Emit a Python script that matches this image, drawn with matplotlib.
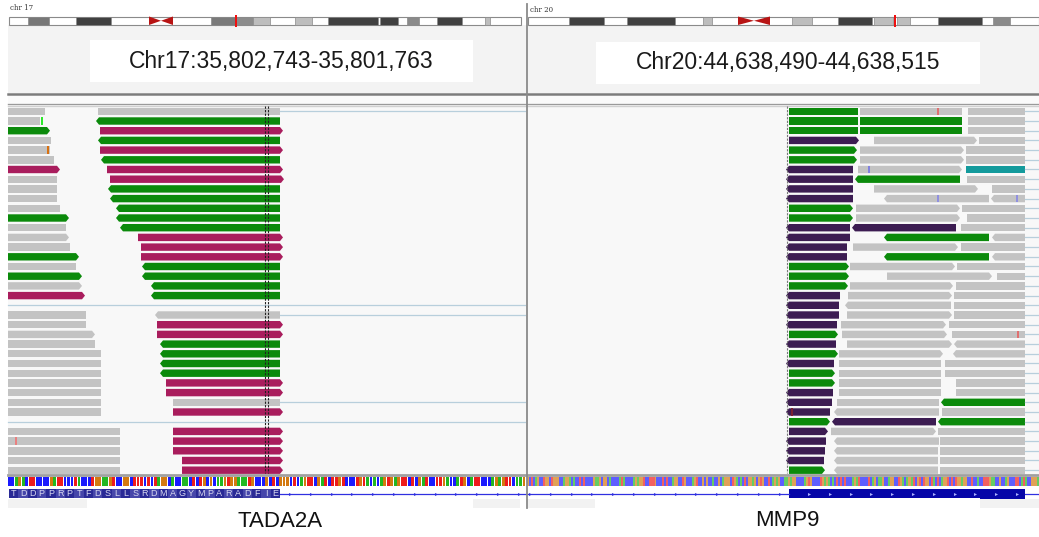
import numpy as np
import matplotlib
matplotlib.use("Agg")
import matplotlib.pyplot as plt
from matplotlib.patches import Polygon, Rectangle

plt.rcParams['font.family'] = ['Liberation Sans', 'DejaVu Sans']

# ---- data --------------------------------------------------------------
loci = ["Chr17:35,802,743-35,801,763", "Chr20:44,638,490-44,638,515"]
genes = ["TADA2A", "MMP9"]
chroms = ["chr 17", "chr 20"]

# ideogram bands: (start, end, shade)
left_bands = [(28, 49, '#777777'), (76, 111, '#404040'), (211, 236, '#7a7a7a'),
              (236, 253, '#8c8c8c'), (253, 270, '#bdbdbd'), (295, 312, '#bdbdbd'),
              (328, 378, '#404040'), (380, 398, '#404040'), (407, 419, '#8a8a8a'),
              (437, 462, '#404040'), (485, 490, '#bdbdbd')]
right_bands = [(569, 604, '#404040'), (627, 675, '#404040'), (703, 712, '#bdbdbd'),
               (792, 812, '#bdbdbd'), (838, 872, '#404040'), (874, 893, '#bdbdbd'),
               (897, 910, '#bdbdbd'), (938, 982, '#404040'), (993, 1010, '#8a8a8a')]
centromeres = [(149, 173), (738, 770)]
cytoband_marks = [236, 895]

# reads: (row, start, end, colour, strand)
left_reads = [
    (0, 8, 45, 'gray', '.'), (0, 98, 280, 'gray', '.'),
    (1, 8, 40, 'gray', '.'), (1, 96, 280, 'green', '-'),
    (2, 8, 50, 'green', '+'), (2, 100, 283, 'magenta', '+'),
    (3, 8, 51, 'gray', '.'), (3, 98, 280, 'green', '-'),
    (4, 8, 50, 'gray', '.'), (4, 100, 283, 'magenta', '+'),
    (5, 8, 54, 'gray', '.'), (5, 101, 280, 'green', '-'),
    (6, 8, 60, 'magenta', '+'), (6, 107, 283, 'magenta', '+'),
    (7, 8, 57, 'gray', '.'), (7, 110, 284, 'magenta', '+'),
    (8, 8, 57, 'gray', '.'), (8, 108, 280, 'green', '-'),
    (9, 8, 57, 'gray', '.'), (9, 110, 280, 'green', '-'),
    (10, 8, 60, 'gray', '.'), (10, 116, 280, 'green', '-'),
    (11, 8, 69, 'green', '+'), (11, 116, 280, 'green', '-'),
    (12, 8, 66, 'gray', '.'), (12, 120, 280, 'green', '-'),
    (13, 8, 69, 'gray', '+'), (13, 138, 283, 'magenta', '+'),
    (14, 8, 70, 'gray', '.'), (14, 141, 283, 'magenta', '+'),
    (15, 8, 79, 'green', '+'), (15, 141, 283, 'magenta', '+'),
    (16, 8, 76, 'gray', '.'), (16, 142, 280, 'green', '-'),
    (17, 8, 82, 'green', '+'), (17, 142, 280, 'green', '-'),
    (18, 8, 82, 'gray', '+'), (18, 151, 280, 'green', '-'),
    (19, 8, 85, 'magenta', '+'), (19, 151, 280, 'green', '-'),
    (21, 8, 86, 'gray', '.'), (21, 155, 280, 'gray', '-'),
    (22, 8, 86, 'gray', '.'), (22, 157, 283, 'magenta', '+'),
    (23, 8, 95, 'gray', '+'), (23, 157, 283, 'magenta', '+'),
    (24, 8, 95, 'gray', '.'), (24, 160, 280, 'green', '-'),
    (25, 8, 101, 'gray', '.'), (25, 160, 280, 'green', '-'),
    (26, 8, 101, 'gray', '.'), (26, 160, 280, 'green', '-'),
    (27, 8, 101, 'gray', '.'), (27, 160, 280, 'green', '-'),
    (28, 8, 101, 'gray', '.'), (28, 166, 283, 'magenta', '+'),
    (29, 8, 101, 'gray', '.'), (29, 166, 283, 'magenta', '+'),
    (30, 8, 101, 'gray', '.'), (30, 173, 280, 'gray', '.'),
    (31, 8, 101, 'gray', '.'), (31, 173, 283, 'magenta', '+'),
    (33, 8, 120, 'gray', '.'), (33, 173, 283, 'magenta', '+'),
    (34, 8, 120, 'gray', '.'), (34, 173, 283, 'magenta', '+'),
    (35, 8, 120, 'gray', '.'), (35, 173, 283, 'magenta', '+'),
    (36, 8, 120, 'gray', '.'), (36, 182, 283, 'magenta', '+'),
    (37, 8, 120, 'gray', '.'), (37, 182, 283, 'magenta', '+'),
]

right_reads = [
    (0, 789, 858, 'green', '.'), (0, 860, 962, 'gray', '.'), (0, 968, 1025, 'gray', '.'),
    (1, 789, 858, 'green', '.'), (1, 860, 962, 'green', '.'), (1, 968, 1025, 'gray', '.'),
    (2, 789, 858, 'green', '.'), (2, 860, 962, 'green', '.'), (2, 968, 1025, 'gray', '.'),
    (3, 789, 859, 'purple', '+'), (3, 874, 977, 'gray', '+'), (3, 979, 1025, 'gray', '.'),
    (4, 789, 857, 'green', '+'), (4, 860, 964, 'gray', '+'), (4, 966, 1025, 'gray', '.'),
    (5, 789, 857, 'green', '+'), (5, 860, 964, 'gray', '+'), (5, 966, 1025, 'gray', '.'),
    (6, 786, 853, 'purple', '-'), (6, 858, 962, 'gray', '+'), (6, 966, 1025, 'teal', '.'),
    (7, 786, 853, 'purple', '-'), (7, 855, 960, 'green', '-'), (7, 967, 1025, 'gray', '.'),
    (8, 786, 853, 'purple', '-'), (8, 874, 978, 'gray', '+'), (8, 992, 1025, 'gray', '.'),
    (9, 786, 853, 'purple', '-'), (9, 884, 989, 'gray', '-'), (9, 991, 1025, 'gray', '-'),
    (10, 789, 853, 'green', '+'), (10, 856, 960, 'gray', '+'), (10, 962, 1025, 'gray', '.'),
    (11, 789, 853, 'green', '+'), (11, 856, 960, 'gray', '+'), (11, 967, 1025, 'gray', '.'),
    (12, 786, 850, 'purple', '-'), (12, 852, 956, 'purple', '-'), (12, 961, 1025, 'gray', '.'),
    (13, 786, 850, 'purple', '-'), (13, 884, 989, 'green', '-'), (13, 992, 1025, 'gray', '-'),
    (14, 786, 847, 'purple', '-'), (14, 853, 958, 'gray', '+'), (14, 961, 1025, 'gray', '.'),
    (15, 786, 847, 'purple', '-'), (15, 884, 989, 'green', '-'), (15, 992, 1025, 'gray', '-'),
    (16, 789, 849, 'green', '+'), (16, 850, 955, 'gray', '+'), (16, 957, 1025, 'gray', '.'),
    (17, 789, 849, 'green', '+'), (17, 887, 992, 'gray', '+'), (17, 997, 1025, 'gray', '.'),
    (18, 789, 848, 'green', '+'), (18, 850, 953, 'gray', '+'), (18, 956, 1025, 'gray', '.'),
    (19, 786, 840, 'purple', '-'), (19, 848, 952, 'gray', '+'), (19, 954, 1025, 'gray', '.'),
    (20, 786, 839, 'purple', '-'), (20, 845, 951, 'gray', '-'), (20, 954, 1025, 'gray', '.'),
    (21, 786, 839, 'purple', '-'), (21, 847, 952, 'gray', '+'), (21, 954, 1025, 'gray', '.'),
    (22, 786, 837, 'purple', '-'), (22, 841, 946, 'gray', '+'), (22, 949, 1025, 'gray', '.'),
    (23, 789, 838, 'green', '+'), (23, 842, 947, 'gray', '+'), (23, 952, 1025, 'gray', '.'),
    (24, 786, 836, 'purple', '-'), (24, 847, 952, 'gray', '+'), (24, 954, 1025, 'gray', '-'),
    (25, 789, 838, 'green', '+'), (25, 839, 943, 'gray', '+'), (25, 953, 1025, 'gray', '-'),
    (26, 786, 834, 'purple', '-'), (26, 839, 941, 'gray', '.'), (26, 945, 1025, 'gray', '.'),
    (27, 789, 835, 'green', '+'), (27, 839, 941, 'gray', '.'), (27, 945, 1025, 'gray', '.'),
    (28, 789, 835, 'green', '+'), (28, 839, 941, 'gray', '.'), (28, 956, 1025, 'gray', '.'),
    (29, 786, 833, 'purple', '-'), (29, 839, 941, 'gray', '.'), (29, 956, 1025, 'gray', '.'),
    (30, 786, 832, 'purple', '-'), (30, 837, 939, 'gray', '.'), (30, 941, 1025, 'green', '-'),
    (31, 786, 830, 'purple', '-'), (31, 834, 939, 'gray', '-'), (31, 942, 1025, 'gray', '.'),
    (32, 789, 830, 'green', '+'), (32, 832, 936, 'purple', '-'), (32, 938, 1025, 'green', '-'),
    (33, 789, 828, 'purple', '+'), (33, 831, 936, 'gray', '+'), (33, 938, 1025, 'gray', '.'),
    (34, 786, 826, 'purple', '-'), (34, 834, 939, 'gray', '-'), (34, 940, 1025, 'gray', '.'),
    (35, 786, 825, 'purple', '-'), (35, 834, 938, 'gray', '-'), (35, 940, 1025, 'gray', '.'),
    (36, 786, 824, 'purple', '-'), (36, 834, 938, 'gray', '-'), (36, 940, 1025, 'gray', '.'),
    (37, 789, 825, 'green', '+'), (37, 834, 938, 'gray', '-'), (37, 940, 1025, 'gray', '.'),
]

# mismatched bases inside reads: (row, x, colour)
mismatches = [(1, 42, '#2ee82e'), (4, 48, '#d87010'), (34, 16, '#e88080'),
              (0, 938, '#e07070'), (6, 869, '#8080e0'), (9, 938, '#9090e0'),
              (9, 1017, '#9090e0'), (23, 1018, '#e07070'), (31, 792, '#7a2030')]

# split-read junction lines: (row, start, end)
junctions = [(0, 280, 525), (20, 8, 525), (21, 280, 525), (30, 280, 525), (32, 8, 525)]
junctions += [(r, 1025, 1039) for r in range(38)]

left_seq = ("CCAGACTTCCCCGATTCCCTACCCTGGAAGTCCGGCTTTCTCTAGGCACCAACTCTGCGCAAGTGGAAATG"
            "CCCGCTCGGGCTCAGTTCGATCTTGTCCCTGTACACAGTGAGTTCTCGATCCTTGACCATGCATTCCCAGAGTTCAAG")
right_seq = ("GCTCAGCCTGGCTGGGCCAGGACACCTCTCCCCGAAGCGGCACCCCATACCCCAGAGGTCCTTTGCCCTCTC"
             "CAGGCCTGCCCAGTCCGCGCCACCGCAGGGCTGACACTCGGAGCGTGCCTCAGAGCCAAGAGGCCCCAGTGC"
             "CCCTGAGACACTCTCTCCCAGATCCCCTCAGCAAGCCAGGCCTGACAGGATCGTCTGGCTACTCAGGTCTCT"
             "GGAGGCCTCCACCTTTGAACCGCCAGCCCTTCATACCGGGA")
aa_left = "TDDPPRPTFDSLLSRDMAGYMPARADFIE"

# ---- styling -----------------------------------------------------------
read_cols = {'gray': '#c3c3c3', 'green': '#0b8a0b', 'magenta': '#a91d5d',
             'purple': '#3c1c52', 'teal': '#139a9c'}
base_cols = {'A': '#22b822', 'C': '#1a1aff', 'G': '#d47a10', 'T': '#ee1c1c'}
row_top, row_step, row_h = 107.6, 9.7, 7.4

fig = plt.figure(figsize=(10.39, 5.37), dpi=100)
ax = fig.add_axes([0, 0, 1, 1])
ax.set_xlim(0, 1039)
ax.set_ylim(537, 0)
ax.axis('off')

panels = [(8, 526), (527, 1039)]

# header background and locus boxes
ax.add_patch(Rectangle((8, 25), 1031, 68, color='#f3f3f3', lw=0))
ax.add_patch(Rectangle((90, 40), 383, 42, color='white', lw=0))
ax.add_patch(Rectangle((596, 42), 384, 42, color='white', lw=0))
ax.text(281, 61.5, loci[0], ha='center', va='center', fontsize=16.5, color='#1a1a1a')
ax.text(788, 63, loci[1], ha='center', va='center', fontsize=16.5, color='#1a1a1a')
ax.text(10, 8.5, chroms[0], fontsize=5, family='DejaVu Serif', va='center', color='#333')
ax.text(530, 9.5, chroms[1], fontsize=5, family='DejaVu Serif', va='center', color='#333')

# ideograms
for (x0, x1), bands in zip([(9, 521), (528, 1039)], [left_bands, right_bands]):
    ax.add_patch(Rectangle((x0, 17), x1 - x0, 7.5, facecolor='white', edgecolor='#8a8a8a', lw=0.8))
    for b0, b1, c in bands:
        ax.add_patch(Rectangle((b0, 17), b1 - b0, 7.5, facecolor=c, edgecolor='#8a8a8a', lw=0.5))
for c0, c1 in centromeres:
    m = (c0 + c1) / 2
    ax.add_patch(Polygon([(c0, 16.5), (m, 20.75), (c1, 16.5), (c1, 25), (m, 20.75), (c0, 25)],
                         closed=True, color='#b81414', lw=0))
for xm in cytoband_marks:
    ax.add_patch(Rectangle((xm - 1.3, 15), 2.6, 12, color='#ee1010', lw=0))

# separators under the header
ax.plot([8, 1039], [94, 94], color='#7c7c7c', lw=1.8)
ax.add_patch(Rectangle((8, 95.5), 1031, 7, color='#fafafa', lw=0))
ax.plot([8, 1039], [103.5, 103.5], color='#9a9a9a', lw=1.0)
ax.plot([8, 1039], [105.5, 105.5], color='#d0d0d0', lw=1.0)

# alignment area
ax.add_patch(Rectangle((8, 106.5), 1031, 367, color='#f8f8f8', lw=0))


def read_poly(x0, x1, y, strand, tip=3.0):
    h = row_h
    if strand == '+':
        return [(x0, y), (x1 - tip, y), (x1, y + h / 2), (x1 - tip, y + h), (x0, y + h)]
    if strand == '-':
        return [(x0 + tip, y), (x1, y), (x1, y + h), (x0 + tip, y + h), (x0, y + h / 2)]
    return [(x0, y), (x1, y), (x1, y + h), (x0, y + h)]


for row, x0, x1 in junctions:
    yc = row_top + row * row_step + row_h / 2
    ax.plot([x0, x1], [yc, yc], color='#b8cfdc', lw=0.9)

for row, x0, x1, c, s in left_reads + right_reads:
    y = row_top + row * row_step
    ax.add_patch(Polygon(read_poly(x0, x1, y, s), closed=True, color=read_cols[c], lw=0))

for row, x, c in mismatches:
    y = row_top + row * row_step
    ax.add_patch(Rectangle((x - 1, y), 2.2, row_h, color=c, lw=0))

# position guides
for xg in (264.5, 268):
    ax.plot([xg, xg], [106, 473], color='#202020', lw=0.8, ls=(0, (2, 1.2)))
ax.plot([786.5, 786.5], [106, 473], color='#777777', lw=0.8, ls=(0, (2, 1.2)))

# bottom of alignment area
ax.plot([8, 1039], [474.5, 474.5], color='#a0a0a0', lw=2)

# reference sequence (the wider locus is packed tighter, so its bases blend)
for (x0, x1), seq, fill, alpha in zip(panels, [left_seq, right_seq], [0.82, 1.0], [1.0, 0.7]):
    w = (x1 - x0) / len(seq)
    xs = x0 + np.arange(len(seq)) * w
    ax.bar(xs, 8.5, width=w * fill, bottom=477, align='edge',
           color=[base_cols[b] for b in seq], alpha=alpha, lw=0)

# gene track
gy = 494
ax.plot([280, 526], [gy, gy], color='#3030e0', lw=0.9)
ax.plot([527, 789], [gy, gy], color='#3030e0', lw=0.9)
ax.plot([1025, 1039], [gy, gy], color='#3030e0', lw=0.9)
for xt in np.concatenate([np.arange(290, 526, 20.8), np.arange(530, 789, 20.8)]):
    ax.plot([xt], [gy], marker='>', ms=2.2, color='#3030e0', mew=0)
aw = (280 - 9) / len(aa_left)
for i, aa in enumerate(aa_left):
    ax.add_patch(Rectangle((9 + i * aw, 489), aw, 9, color='#2a2a96' if i % 2 == 0 else '#4646aa', lw=0))
    ax.text(9 + i * aw + aw / 2, 493.6, aa, ha='center', va='center', fontsize=6.5, color='#d8d8f0')
ax.add_patch(Rectangle((789, 489), 236, 8.5, color='#0606a8', lw=0))
ax.add_patch(Rectangle((980, 489), 45, 10.5, color='#0606a8', lw=0))
for xt in np.arange(809, 1025, 20.8):
    ax.plot([xt], [493.5], marker='>', ms=2.2, color='#aab0ff', mew=0)

# faint strips under the gene track
for x0, x1 in [(8, 87), (473, 520), (527, 595), (980, 1039)]:
    ax.add_patch(Rectangle((x0, 498.5), x1 - x0, 9, color='#f2f2f2', lw=0))

# panel divider
ax.plot([527, 527], [4, 508], color='#8a8a8a', lw=1.3)

# gene names
ax.text(280, 521.5, genes[0], ha='center', va='center', fontsize=16, color='#111')
ax.text(787, 521, genes[1], ha='center', va='center', fontsize=16, color='#111')

fig.savefig('out.png', dpi=100)
